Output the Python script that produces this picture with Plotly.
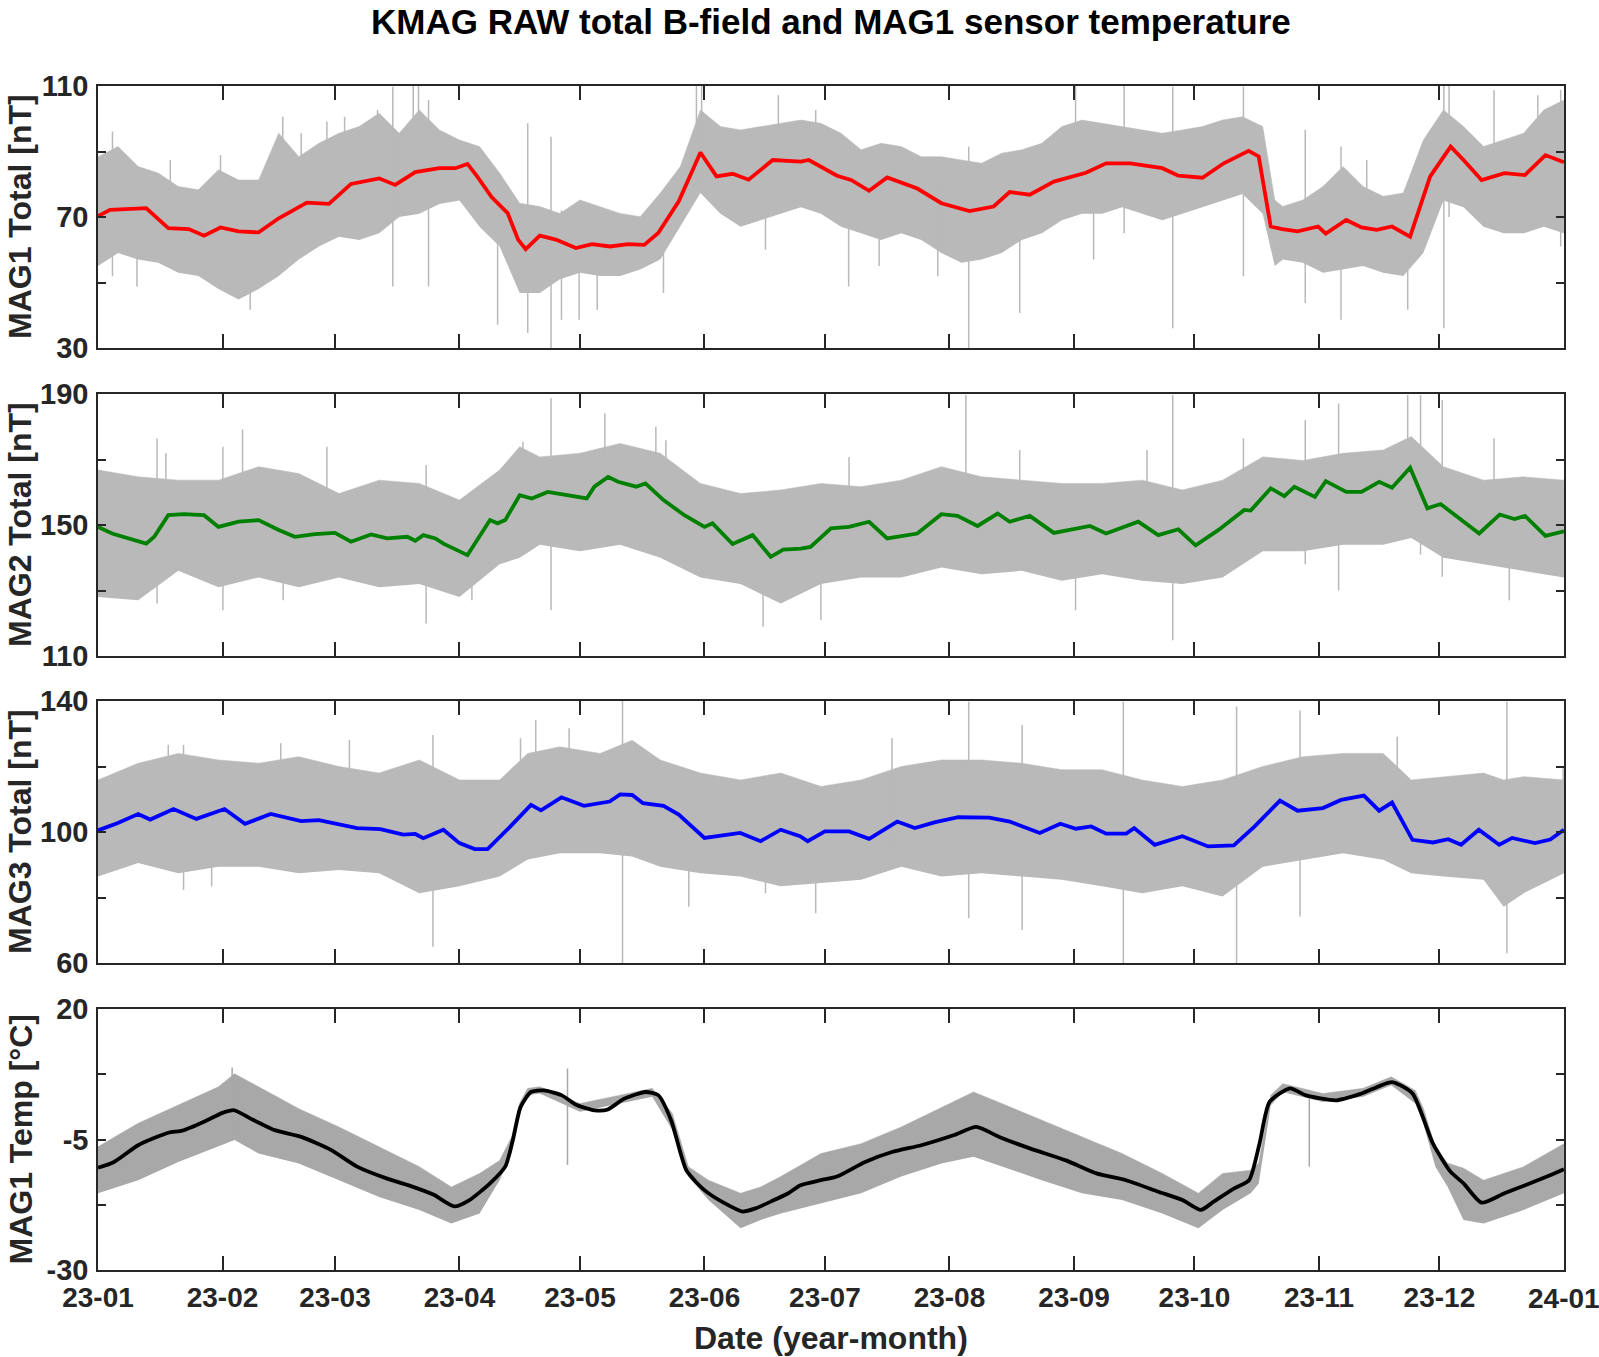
import pandas as pd
import plotly.graph_objects as go

BASE = pd.Timestamp("2023-01-01")

# ---------------- MAG1 (days since 2023-01-01) ----------------
mag1_days = [0,3,12,17.5,22.6,26.4,30.5,35,40,45,52,57.5,63,70,74,79,85,89,92,94.4,98,102,104.6,106.5,110,114,119,123,127.5,132,136,139.5,144.6,150,154,158,162,168,175,177,184,187.5,192,196.5,204,210,217,223,227,232,238,246,251,257,265,269,275,280.3,286.5,289,292,294.9,298.7,303.8,305.7,310.8,314.6,318.4,322.2,326.7,331.7,336.8,340,344.5,350.2,355.3,360.4,365]
mag1_smooth = [70.3,72.2,72.7,66.6,66.3,64.3,66.8,65.6,65.3,69.6,74.4,74,80.1,81.8,79.8,83.7,84.9,84.9,86.2,82.4,76.1,71.2,63.1,60.2,64.3,63.1,60.5,61.7,61,61.7,61.5,65.1,74.8,89.7,82.4,83.2,81.4,87.4,86.9,87.4,82.6,81.3,78,82.1,78.7,74.2,71.8,73.2,77.6,76.8,80.8,83.5,86.4,86.4,84.9,82.6,82,86.4,90.2,88.5,67.1,66.3,65.6,67.1,64.9,69.1,66.8,66.1,67.1,64,82.4,91.5,87.4,81.3,83.4,82.8,88.9,86.7]
mag1_env_days = [0,5,10,15,20,25,30,35,40,45,50,55,60,65,70,75,80,85,90,95,100,105,110,115,120,125,130,135,140,145,150,155,160,165,170,175,180,185,190,195,200,205,210,215,220,225,230,235,240,245,250,255,260,265,270,275,280,285,290,293,295,300,305,310,315,320,325,330,335,340,345,350,355,360,365]
mag1_env_hi = [88.4,91.5,85.4,83.4,79.3,78.3,84.4,81.3,81.3,95.6,88.4,92.5,95.6,97.6,101.7,95.6,102.7,96.6,93.5,91.5,83.4,74.2,73.2,71.1,75.2,73.2,71.1,70.1,77.3,85.4,102.7,97.6,96.6,97.6,98.6,99.6,98.6,95.6,90.5,92.5,91.5,88.4,88.4,87.4,86.4,89.5,90.5,92.5,97.6,99.6,98.6,97.6,96.6,95.6,96.6,97.6,99.6,100.6,97.6,75.2,73.2,75.2,79.3,85.4,79.3,76.3,77.3,93.5,102.7,97.6,91.5,93.5,95.6,102.7,105.7]
mag1_env_lo = [55,59,57,56,53,52,48,44.8,48,52,57,61,64,63,65,70,71,74,75,67,61,46.8,46.8,51,53,52,52,54,57,67,77.3,71,67,69,71,73,71,67,65,63,65,63,59,56,57,59,63,65,69,71,71,73,71,69,71,73,75,77,71,55,57,56,53,54,55,53,52,59,75,73,67,65,65,67,65]
mag1_spike_days = [3.6,9.7,18,30.5,37.9,46,50.6,57,61.4,69.6,73.4,78.5,79.8,82.3,99.5,107,112.8,115.4,119.8,124.3,140.8,149,150.3,162.4,166.2,169.4,178.7,186.9,194.5,209.1,216.8,229.5,243.4,247.9,255.5,267.6,285.2,300.6,309.5,315.9,326.1,335.1,336.4,347.6,358.5,364.2]
mag1_spike_hi = [96.1,80,87.4,88.9,75,100.6,95.6,99.1,100.6,102.7,109.8,110,110,105.7,80,98.6,94.5,72,72,72,70,110,110,95.6,88,107.2,102.7,85,85,80,91.5,80,110,88,110,109.8,109.8,96.6,91.5,87.4,75,110,110,108.8,107.2,108.8]
mag1_spike_lo = [51.9,48.8,60,60,41.7,62,65,70,70,70,48.8,75,75,48.8,37.1,34.6,30,38.6,38.6,41.7,46.8,80,80,75,60,80,75,48.8,55,51.9,30,40.7,80,57,65,36,51.9,43.7,38.6,70,41.7,36,70,80,80,61]

# ---------------- MAG2 ----------------
mag2_days = [0,3.5,12,14,17.5,21.3,26.4,30,35,40,45,49,54,59,63,68,72,77,79,81,84,86,92,97.6,99.5,101.4,105,108,112,116.6,121.7,123.6,127,129.5,134,136.3,140.8,146,151,153,158,163,167.5,170.6,175,177.4,182.5,187,192,196.5,204,210,214,219,224,227,232,238,247,251,259,264,269,273.3,279,285.4,287,292,295.4,297.9,303,305.7,310.8,314.6,319,322.2,326.7,331,334.3,343.9,349,352.7,355.3,360.4,365]
mag2_smooth = [149.4,147.4,144.3,146.4,153,153.3,153,149.4,151,151.5,148.5,146.4,147.2,147.6,144.9,147.1,145.9,146.4,145.2,146.9,145.9,144.3,140.8,151.5,150.5,151.5,159.1,158.1,160.1,159.1,158.1,161.7,164.7,163.2,161.7,162.7,157.6,153,149.4,150.5,144.2,146.9,140.3,142.5,142.8,143.3,149,149.4,151,145.9,147.4,153.3,152.8,149.7,153.5,151,152.8,147.6,149.7,147.4,151,146.9,148.7,143.8,148.5,154.6,154.4,161.2,158.8,161.7,158.6,163.4,160.1,160.1,163.2,161.4,167.5,155.1,156.4,147.4,153.2,151.8,152.8,146.7,148.1]
mag2_env_days = [0,10,20,30,40,50,60,70,80,90,100,105,110,120,130,140,150,160,170,180,190,200,210,220,230,240,250,260,270,280,290,300,310,320,327,335,345,355,365]
mag2_env_hi = [166.8,164.7,163.7,163.7,167.8,165.7,159.6,163.7,162.7,157.6,166.8,173.9,170.8,171.9,174.9,171.9,162.7,159.6,160.7,162.7,161.7,163.7,167.8,164.7,163.7,162.7,162.7,163.7,160.7,163.7,170.8,169.7,171.9,172.9,177,167.8,163.7,164.7,163.7]
mag2_env_lo = [128,127,136,131,134,131,134,131,132,128,138,140,144,142,144,140,134,132,126,132,134,134,137,135,136,133,135,133,132,134,142,142,144,144,146,140,138,136,134]
mag2_spike_days = [0.8,14.7,16.9,31.1,36,46.1,57,81.7,93.1,105.8,112.8,126.2,138.9,141.4,165.6,180,187,216.1,229.5,243.4,261.2,267.6,285.2,300.6,308.9,326.1,329.3,334.7,347.6,351.4]
mag2_spike_hi = [166.8,176.4,171.9,173.9,179.2,150,173.9,168.3,145,175.4,188.7,184.1,180,175.9,145,150,170.8,189.7,172.9,150,172.9,189.7,176.4,182,187.1,189.7,189.7,188.2,176.4,150]
mag2_spike_lo = [140,126,145,124,145,127,145,119.9,127,150,124,155,155,155,118.9,121,145,145,145,124,145,114.8,150,138,130,155,141,134.2,145,127]

# ---------------- MAG3 ----------------
mag3_days = [0,4.8,10,13,18.8,24.5,31.5,36.6,43,50.6,55,64.5,70.3,76,79,81,86,90,93.8,97,102.7,107.8,110.3,115.4,121,127.4,130,133,135.7,140.8,144.6,151,159.9,165,170,174.8,176.7,181,187,192,199,203.4,208.5,214.2,221.9,227,234.5,239.6,243.5,247.3,251,256,258,263.1,270,276.4,282.8,288,294.3,298.7,305,309.5,315.2,319,322.2,327.3,332.4,336.2,339.4,343.8,348.9,352.1,357.8,361.6,365]
mag3_smooth = [100.5,102.7,105.5,103.8,107,104,107,102.5,105.5,103.3,103.6,101.2,100.9,99.2,99.4,98.1,100.7,96.6,94.8,94.8,101.7,108.3,106.6,110.6,108,109.3,111.5,111.3,108.8,108,105.3,98.2,99.7,97.2,100.7,98.7,97.2,100.2,100.2,97.9,103.2,101.2,103,104.5,104.4,103.2,99.7,102.5,101,101.7,99.5,99.5,101.2,96.1,98.7,95.6,95.9,101.7,109.6,106.5,107.3,109.8,111.1,106.5,109,97.6,96.8,97.8,96.1,100.7,96.1,98.2,96.6,97.7,100.7]
mag3_env_days = [0,10,20,30,40,50,60,70,80,90,100,107,115,125,133,140,150,160,170,180,190,200,210,220,230,240,250,260,270,280,290,300,310,320,327,335,345,350,355,365]
mag3_env_hi = [115.9,121,124,122,121,123,120,118,122,115.9,115.9,124,126,124,128,122,118,115.9,118,113.9,115.9,120,122,122,121,119,119,115.9,113.9,115.9,120,123,124,124,115.9,116.9,118,115.9,116.9,115.9]
mag3_env_lo = [86.4,90.5,87.4,89.4,89.4,87.4,88.4,87.4,81.3,83.4,86.4,91.6,93.5,93.5,92.5,89.4,87.4,86.4,83.4,84.4,85.4,89.4,86.4,87.4,86.4,85.4,83.4,81.3,83.4,80.3,89.4,91.5,93.5,91.5,87.4,86.4,85.4,77.2,81.3,87.4]
mag3_spike_days = [17.5,21.3,28.3,45.5,62.6,83.4,105.2,109,117.3,130.6,147.1,166.2,178.7,197.7,216.8,230.1,255.3,283.5,299.3,323.5,350.8,364.8]
mag3_spike_hi = [126.6,126.6,100,127.1,128.1,129.6,128.6,134.2,131.7,140,100,100,100,128.6,139.8,132.7,139.8,138.3,137.1,129.1,139.8,119.5]
mag3_spike_lo = [95,82.3,83.4,95,95,65,100,100,100,60,77.2,81.3,75.2,95,73.7,70.1,60,60,74.2,105,63,95]

# ---------------- MAG1 temperature ----------------
temp_days = [0,4,10,17.5,21,26.4,31,34,38,44,50.6,58,64.5,72,77,83.6,88.7,92.5,97.6,101.4,103.3,105.2,107.8,111,115.4,119.2,123.6,126.8,131,136.3,139.5,142.7,146.5,151,156,160.5,163.7,167.5,171.9,174.8,180,184,191,197.7,205,213,218.7,224.4,232,241,248.6,256,264,270,274.6,277.8,282.8,286.6,289.2,291.7,296.8,300.6,308.3,314.6,322.2,327.3,332.4,336.8,340,344.5,350.2,356.6,361.7,365]
temp_smooth = [-10.4,-9.3,-6.1,-3.7,-3.3,-1.6,0.1,0.6,-1,-3.2,-4.5,-7,-10.2,-12.5,-13.7,-15.6,-17.8,-16.6,-13.4,-10.2,-5.1,1.2,4.1,4.4,3.5,1.6,0.6,0.7,2.8,4.1,3.5,-1.3,-10.9,-14.7,-17.2,-18.8,-18.2,-16.9,-15.3,-13.8,-12.8,-12.1,-9.3,-7.4,-6.1,-4.2,-2.6,-4.5,-6.7,-9,-11.5,-12.8,-15,-16.6,-18.5,-16.9,-14.4,-12.8,-5.8,2.2,4.8,3.5,2.5,3.8,6,3.8,-5.8,-11.2,-13.4,-17.1,-15.3,-13.4,-11.8,-10.7]
temp_env_days = [0,10,20,30,34,40,50,60,70,80,88,95,100,103,105,107,110,120,130,138,143,145,147,152,160,165,170,180,190,200,210,218,225,235,245,255,265,274,280,287,289,292,295,305,315,322,328,330,333,336,340,345,355,365]
temp_env_hi = [-6.4,-1.9,1.6,5.1,7.6,5.1,0.9,-2.6,-6.4,-10.2,-14.1,-11.5,-9,-4.5,2,4.8,5.1,1.9,3.5,4.8,0,-5,-10.2,-12.8,-15.3,-14.1,-12.1,-7.7,-5.8,-2.6,1.2,4.1,1.9,-1.3,-4.5,-7.7,-11.5,-15.3,-11.5,-10.9,-9.5,3.5,5.7,3.8,4.8,7,4.4,1,-6.5,-9.5,-10.5,-12.8,-10.2,-5.8]
temp_env_lo = [-15.3,-12.8,-9.3,-6.4,-5.1,-7.7,-9.6,-12.8,-16,-18.5,-21.1,-19.2,-12.8,-7.7,0,3.5,3.8,0.3,1.9,3.2,-3.2,-8,-12.1,-16.6,-22,-20.4,-19.2,-17.3,-15.3,-12.1,-9.6,-8.3,-10.2,-12.8,-15.3,-16.6,-19.2,-22,-18.5,-15.3,-13.5,1.5,4.1,2.2,3.2,5.4,1.9,-2,-10.2,-14,-20.4,-21.1,-18.5,-15.3]
temp_spike_days = [33.4,116.9,301.6]
temp_spike_hi = [8.8,8.6,3.2]
temp_spike_lo = [-4,-9.9,-10.2]

# ---------------- axes text ----------------
title_text = "KMAG RAW total B-field and MAG1 sensor temperature"
y_titles = ["MAG1 Total [nT]", "MAG2 Total [nT]", "MAG3 Total [nT]", "MAG1 Temp [°C]"]
x_title = "Date (year-month)"
y_tickvals = [[30, 50, 70, 90, 110], [110, 130, 150, 170, 190], [60, 80, 100, 120, 140], [-30, -17.5, -5, 7.5, 20]]
y_ticktext = [["30", "", "70", "", "110"], ["110", "", "150", "", "190"], ["60", "", "100", "", "140"], ["-30", "", "-5", "", "20"]]
month_ticks = pd.date_range("2023-01-01", "2024-01-01", freq="MS")
month_labels = [d.strftime("%y-%m") for d in month_ticks]

W, H = 1599, 1357
X0, X1 = 98, 1564
PANELS_PX = [(86, 348), (394, 656), (701, 963), (1009, 1270)]
FONT = "Liberation Sans, Arial, Helvetica, sans-serif"
AX = "#262626"
TICK_FONT = dict(family=FONT, size=28, color=AX, weight="bold")


def to_dates(days):
    return [BASE + pd.Timedelta(days=float(d)) for d in days]


panels = [
    (mag1_days, mag1_smooth, mag1_env_days, mag1_env_hi, mag1_env_lo, mag1_spike_days, mag1_spike_lo, mag1_spike_hi, "#ff0000", "#b9b9b9", "linear"),
    (mag2_days, mag2_smooth, mag2_env_days, mag2_env_hi, mag2_env_lo, mag2_spike_days, mag2_spike_lo, mag2_spike_hi, "#008000", "#b9b9b9", "linear"),
    (mag3_days, mag3_smooth, mag3_env_days, mag3_env_hi, mag3_env_lo, mag3_spike_days, mag3_spike_lo, mag3_spike_hi, "#0000ff", "#b9b9b9", "linear"),
    (temp_days, temp_smooth, temp_env_days, temp_env_hi, temp_env_lo, temp_spike_days, temp_spike_lo, temp_spike_hi, "#000000", "#a8a8a8", "spline"),
]

fig = go.Figure()
for i, (sd, sv, ed, eh, el, kd, klo, khi, col, gray, shape) in enumerate(panels, start=1):
    xa = "x" if i == 1 else f"x{i}"
    ya = "y" if i == 1 else f"y{i}"
    edates = to_dates(ed)
    fig.add_trace(go.Scatter(x=edates, y=el, mode="lines", line=dict(width=0, color=gray),
                             xaxis=xa, yaxis=ya, showlegend=False, hoverinfo="skip"))
    fig.add_trace(go.Scatter(x=edates, y=eh, mode="lines", line=dict(width=0.5, color=gray),
                             fill="tonexty", fillcolor=gray,
                             xaxis=xa, yaxis=ya, showlegend=False, hoverinfo="skip"))
    sx, sy = [], []
    for d, lo, hi in zip(to_dates(kd), klo, khi):
        sx += [d, d, None]
        sy += [lo, hi, None]
    fig.add_trace(go.Scatter(x=sx, y=sy, mode="lines", line=dict(width=1.5, color=gray),
                             xaxis=xa, yaxis=ya, showlegend=False, hoverinfo="skip"))
    line = dict(width=3.8, color=col)
    if shape == "spline":
        line.update(shape="spline", smoothing=0.6)
    fig.add_trace(go.Scatter(x=to_dates(sd), y=sv, mode="lines", line=line,
                             xaxis=xa, yaxis=ya, showlegend=False))

layout = dict(
    width=W, height=H, margin=dict(l=0, r=0, t=0, b=0, autoexpand=False),
    paper_bgcolor="white", plot_bgcolor="white",
    font=dict(family=FONT, color=AX),
    showlegend=False,
)
annotations = []
for i, (top, bot) in enumerate(PANELS_PX, start=1):
    xk = "xaxis" if i == 1 else f"xaxis{i}"
    yk = "yaxis" if i == 1 else f"yaxis{i}"
    ya = "y" if i == 1 else f"y{i}"
    xa = "x" if i == 1 else f"x{i}"
    ylo, yhi = y_tickvals[i - 1][0], y_tickvals[i - 1][-1]
    layout[xk] = dict(
        domain=[X0 / W, X1 / W], anchor=ya,
        range=["2023-01-01", "2024-01-01 00:30"],
        tickvals=list(month_ticks), ticktext=month_labels,
        showticklabels=(i == 4), automargin=False,
        ticks="inside", ticklen=14, tickwidth=1.5, tickcolor=AX,
        showline=True, linecolor=AX, linewidth=1.5, mirror="allticks",
        showgrid=False, zeroline=False, ticklabelstandoff=2,
        tickfont=TICK_FONT,
    )
    layout[yk] = dict(
        domain=[1 - bot / H, 1 - top / H], anchor=xa,
        range=[ylo, yhi], automargin=False,
        tickvals=y_tickvals[i - 1], ticktext=y_ticktext[i - 1],
        ticks="inside", ticklen=8, tickwidth=1.5, tickcolor=AX,
        showline=True, linecolor=AX, linewidth=1.5, mirror="allticks",
        showgrid=False, zeroline=False, ticklabelstandoff=2,
        tickfont=dict(family=FONT, size=29, color=AX, weight="bold"),
    )
    annotations.append(dict(
        text=y_titles[i - 1], textangle=-90, x=0.0, y=1 - (top + bot) / 2 / H,
        xref="paper", yref="paper", xanchor="left", yanchor="middle", showarrow=False,
        font=dict(family=FONT, size=32, color=AX, weight="bold"),
    ))
# last month label (plotly drops it because it reaches the page edge)
annotations.append(dict(
    text=month_labels[-1], x=month_ticks[-1], xref="x4", y=1 - 1298 / H, yref="paper",
    xanchor="center", yanchor="middle", showarrow=False, font=TICK_FONT,
))
annotations.append(dict(
    text=title_text, x=(X0 + X1) / 2 / W, y=1.0, xref="paper", yref="paper",
    xanchor="center", yanchor="top", showarrow=False,
    font=dict(family=FONT, size=35, color="#000000", weight="bold"),
))
annotations.append(dict(
    text=x_title, x=(X0 + X1) / 2 / W, y=1 - 1338 / H, xref="paper", yref="paper",
    xanchor="center", yanchor="middle", showarrow=False,
    font=dict(family=FONT, size=32, color=AX, weight="bold"),
))
layout["annotations"] = annotations
fig.update_layout(**layout)
fig.write_html("out.html")
